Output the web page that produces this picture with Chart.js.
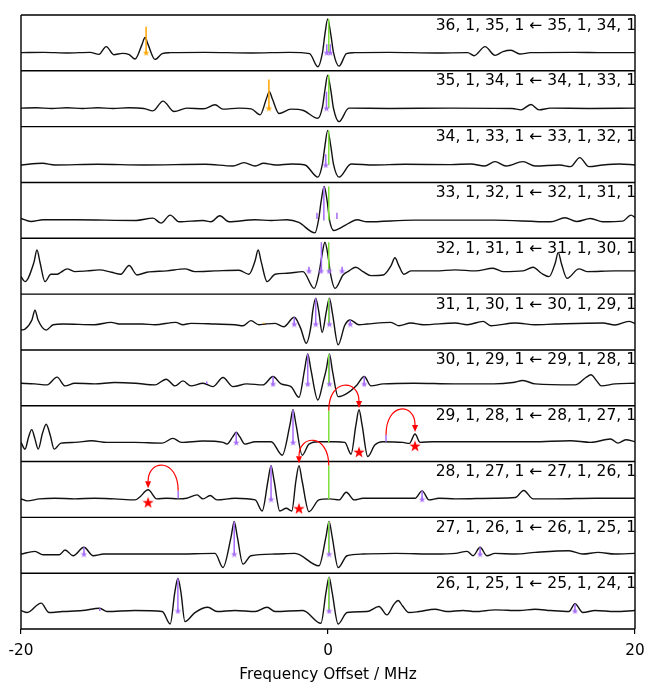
<!DOCTYPE html>
<html>
<head>
<meta charset="utf-8">
<script src="https://cdn.jsdelivr.net/npm/chart.js@4/dist/chart.umd.min.js"></script>
<style>html,body{margin:0;padding:0;background:#fff}</style>
</head>
<body>
<canvas id="spec" width="645" height="683" style="width:645px;height:683px"></canvas>
<script>
// panel titles, top to bottom
const labels = [
  "36, 1, 35, 1 \u2190 35, 1, 34, 1",
  "35, 1, 34, 1 \u2190 34, 1, 33, 1",
  "34, 1, 33, 1 \u2190 33, 1, 32, 1",
  "33, 1, 32, 1 \u2190 32, 1, 31, 1",
  "32, 1, 31, 1 \u2190 31, 1, 30, 1",
  "31, 1, 30, 1 \u2190 30, 1, 29, 1",
  "30, 1, 29, 1 \u2190 29, 1, 28, 1",
  "29, 1, 28, 1 \u2190 28, 1, 27, 1",
  "28, 1, 27, 1 \u2190 27, 1, 26, 1",
  "27, 1, 26, 1 \u2190 26, 1, 25, 1",
  "26, 1, 25, 1 \u2190 25, 1, 24, 1"
]
const xTicks = [-20, 0, 20]

// spectra, [offset MHz, intensity]
const t36 = [[-20,0],[-18.5,0.01],[-17,-0.01],[-15.5,0.01],[-14.92,-0.05],[-14.45,0.18],[-13.95,-0.06],[-13.4,-0.02],[-12.95,-0.06],[-12.57,-0.19],[-12.12,0.24],[-11.92,0.45],[-11.72,0.24],[-11.27,-0.2],[-10.8,-0.03],[-10.3,0],[-8,0.01],[-5,-0.01],[-2.5,0.01],[-1.2,-0.03],[-0.66,-0.42],[-0.36,0],[-0.2,0.55],[-0.02,1.0],[0.18,0.55],[0.36,0],[0.72,-0.4],[1.2,-0.03],[1.7,0],[4,0.01],[7,-0.01],[9.1,0],[9.52,-0.09],[10.23,0.18],[10.88,-0.08],[11.4,0.03],[11.92,0.07],[12.5,-0.04],[13.2,0],[16,0.01],[18,0],[20,0]]
const t35 = [[-20,0.01],[-19,0.02],[-18,0],[-17,0.02],[-16,0],[-15,0.02],[-14,0],[-13,0.02],[-12,0],[-11.4,-0.07],[-10.75,0.22],[-10.02,-0.09],[-9.2,0.01],[-8.1,-0.01],[-7.36,0.11],[-6.84,-0.02],[-5.8,0.01],[-5,-0.01],[-4.42,-0.19],[-4.02,0.28],[-3.82,0.5],[-3.62,0.28],[-3.19,-0.15],[-2.41,-0.02],[-1.6,-0.06],[-0.66,-0.29],[-0.36,0.05],[-0.2,0.55],[-0.02,0.99],[0.18,0.55],[0.36,0],[0.72,-0.39],[1.36,0.01],[4,0],[8,0.01],[12,0],[12.57,-0.04],[13.22,0.12],[13.75,-0.04],[14.5,0.01],[17,0],[20,0.01]]
const t34 = [[-20,-0.02],[-18.6,0.03],[-17.8,-0.02],[-15,0],[-12,-0.02],[-8,0],[-6.2,-0.05],[-5.47,0.05],[-4.74,-0.05],[-4.2,0.03],[-3.4,-0.02],[-2.37,0.01],[-1.5,-0.02],[-0.66,-0.38],[-0.36,0.02],[-0.2,0.55],[-0.02,1.01],[0.18,0.55],[0.36,0],[0.72,-0.38],[1.5,0.01],[3,-0.02],[5,0],[8,-0.01],[9.3,0.01],[10.2,-0.05],[10.88,0.08],[11.6,-0.05],[12.7,0.08],[13.5,-0.05],[15.1,-0.02],[15.8,-0.07],[16.4,0.2],[17,-0.07],[17.9,-0.02],[19,0.01],[20,-0.02]]
const t33 = [[-20,0.05],[-19.35,-0.04],[-18.55,0.01],[-16.5,0.01],[-12.5,-0.01],[-11.4,0.06],[-10.88,-0.09],[-10.28,0.15],[-9.7,-0.05],[-8.14,-0.01],[-7.62,-0.05],[-7.05,0.13],[-6.45,-0.05],[-4.75,0.01],[-3.7,-0.01],[-2.67,0.01],[-1.9,-0.07],[-0.85,-0.38],[-0.6,0.05],[-0.45,0.55],[-0.25,1.0],[-0.05,0.55],[0.1,0],[0.38,-0.31],[0.85,-0.22],[1.37,-0.09],[1.89,0.01],[2.55,-0.05],[5.6,0],[10.8,0],[14.5,-0.05],[15.44,0.07],[16.2,-0.04],[17.1,0.05],[17.9,-0.05],[19.2,-0.03],[19.74,0.15],[20,0.08]]
const t32 = [[-20,-0.02],[-19.74,-0.17],[-19.16,0.4],[-18.96,0.77],[-18.76,0.4],[-18.44,-0.17],[-18.05,0.05],[-17.65,0.05],[-17.4,0.11],[-17,0.21],[-16.5,0.13],[-15.7,0.15],[-14.9,0.18],[-14.1,0.11],[-13.5,0.05],[-12.96,0.31],[-12.44,0.03],[-11.8,0.11],[-10.5,0.15],[-9.32,0.21],[-8.67,0.13],[-7.36,0.15],[-5.8,0.17],[-5.15,0.05],[-4.75,0.45],[-4.55,0.77],[-4.35,0.42],[-3.97,-0.17],[-3.45,0.05],[-2.67,0.08],[-1.63,0.13],[-0.9,-0.37],[-0.58,0.1],[-0.4,0.6],[-0.2,1.0],[0,0.6],[0.15,0.1],[0.46,-0.37],[0.98,0.03],[1.37,0.15],[1.81,0.26],[2.28,0.13],[2.8,0.01],[3.6,0.03],[4.1,0.3],[4.36,0.54],[4.62,0.3],[4.94,0.05],[5.4,0.15],[7,0.15],[8.3,0.18],[9.6,0.15],[10.75,0.23],[11.4,0.13],[12.7,0.15],[13.36,0.26],[13.9,0.08],[14.4,-0.02],[14.8,0.38],[15,0.7],[15.2,0.38],[15.57,-0.07],[16.35,0.21],[16.87,0.13],[18.7,0.15],[20,0.15]]
const t31 = [[-20,0.05],[-19.74,0.08],[-19.29,0.35],[-19.09,0.64],[-18.89,0.35],[-18.36,0.05],[-17.9,0.21],[-17.25,0.23],[-15.2,0.21],[-14.13,0.28],[-13.6,0.23],[-12.1,0.23],[-11.27,0.21],[-9.92,0.28],[-9.45,0.21],[-8.93,0.25],[-7.36,0.23],[-6.06,0.21],[-5.54,0.18],[-5.02,0.33],[-4.5,0.21],[-4.1,0.23],[-3.45,0.25],[-2.88,0.15],[-2.2,0.43],[-1.78,0.1],[-1.42,-0.34],[-1.1,0.2],[-1,0.6],[-0.8,1.0],[-0.6,0.6],[-0.38,-0.02],[-0.11,0.6],[0.09,1.0],[0.29,0.55],[0.66,-0.39],[1.1,0.2],[1.45,0.35],[2.02,0.21],[2.54,0.23],[4.1,0.28],[4.6,0.18],[5.4,0.26],[6.2,0.21],[8.3,0.26],[9.08,0.21],[10.1,0.31],[10.6,0.18],[12.2,0.26],[13.5,0.21],[14.8,0.23],[17.9,0.26],[18.7,0.2],[19.6,0.31],[20,0.25]]
const t30 = [[-20,0.13],[-19.1,0.11],[-18.3,0.08],[-17.65,0.31],[-17.13,0.05],[-16.5,0.13],[-15.2,0.11],[-13.9,0.15],[-12.57,0.13],[-11.27,0.08],[-10.54,0.25],[-9.97,0.05],[-9.45,0.2],[-8.93,0.05],[-8.14,0.13],[-7.5,0.03],[-6.84,0.3],[-6.19,0.03],[-5.28,0.11],[-4.24,0.08],[-3.58,0.33],[-3.06,0.11],[-2.41,0.03],[-1.89,-0.29],[-1.52,0.55],[-1.32,1.0],[-1.12,0.55],[-0.66,-0.37],[-0.3,0.2],[-0.11,0.55],[0.09,1.0],[0.29,0.5],[0.66,-0.27],[1.24,-0.17],[1.89,0.08],[2.36,0.33],[2.8,0.05],[3.6,0.11],[5.6,0.13],[8.2,0.11],[10.8,0.11],[12.05,0.15],[12.7,0.21],[13.5,0.11],[16.1,0.08],[16.8,0.3],[17.13,0.38],[17.5,0.2],[17.8,0.05],[18.7,0.11],[20,0.13]]
const t29 = [[-20,0.03],[-19.74,-0.17],[-19.5,0.2],[-19.3,0.41],[-19.1,0.15],[-18.88,-0.17],[-18.6,0.3],[-18.36,0.57],[-18.1,0.25],[-17.84,-0.17],[-17.4,0.01],[-16.5,0.03],[-15.4,0.08],[-14.4,0.03],[-12.6,0.03],[-10.8,0.01],[-10.1,0.15],[-9.55,0.03],[-8.14,0.07],[-6.84,0.03],[-6.58,-0.02],[-6.2,0.2],[-5.98,0.33],[-5.75,0.2],[-5.41,-0.02],[-4.74,0.05],[-3.7,0.05],[-2.98,-0.35],[-2.48,0.55],[-2.28,1.0],[-2.08,0.55],[-1.68,-0.35],[-1.24,-0.02],[-0.59,0.05],[0.46,0.05],[1.1,0.03],[1.5,-0.32],[1.82,0.55],[2.02,1.0],[2.22,0.55],[2.59,-0.39],[3.05,-0.05],[3.57,0.05],[4.87,0.03],[5.3,0],[5.67,0.28],[6,0.03],[6.8,0.05],[9.4,0.05],[13.3,0.05],[15.8,0.08],[17.1,0.03],[18.4,0.13],[18.9,0.01],[19.4,0.11],[20,0.05]]
const t28 = [[-20,0.01],[-19.6,-0.05],[-18.8,0.01],[-17.8,0.03],[-16.5,0.01],[-15.2,0.03],[-13.9,0.01],[-12.57,-0.02],[-12.3,0.05],[-11.72,0.28],[-11.15,0.01],[-10.5,0.03],[-9.76,0.01],[-9.2,0.03],[-8.53,0.13],[-8.14,0.01],[-7.68,0.11],[-7.23,-0.02],[-6.06,0.03],[-4.74,-0.02],[-4.29,-0.35],[-3.91,0.55],[-3.71,1.0],[-3.51,0.55],[-3.14,-0.35],[-2.72,-0.27],[-2.36,-0.35],[-2.09,0.55],[-1.89,1.0],[-1.69,0.55],[-1.24,-0.37],[-0.59,-0.02],[0.12,0.01],[0.72,-0.02],[1.19,0.21],[1.71,-0.02],[2.28,0.03],[5.67,0.03],[6.13,0.25],[6.58,-0.02],[7.23,0.03],[8.3,0.01],[10.9,0.03],[12.2,0.05],[12.75,0.26],[13.36,0.01],[14.8,0.01],[17.4,0.03],[20,0.03]]
const t27 = [[-20,0.03],[-19.09,0.11],[-18.57,0.01],[-17.5,0.01],[-17.13,0.15],[-16.6,-0.02],[-15.9,0.23],[-15.3,-0.02],[-14.6,0.03],[-12.6,0.03],[-10,0.03],[-7.36,0.05],[-6.84,-0.37],[-6.31,0.55],[-6.11,1.0],[-5.91,0.55],[-5.54,-0.27],[-5.02,-0.02],[-3.45,0.03],[-2.15,0.05],[-0.59,-0.32],[-0.13,0.55],[0.07,1.0],[0.27,0.55],[0.66,-0.37],[1.24,-0.02],[2.28,0.03],[4.4,0.05],[7,0.03],[8.3,0.05],[9.06,0.11],[9.45,-0.02],[9.91,0.23],[10.35,-0.02],[10.88,0.05],[12.2,0.03],[13.5,0.08],[15.7,0.13],[16.6,0.03],[17.6,0.08],[18.7,0.03],[20,0.05]]
const t26 = [[-20,0.01],[-19.6,-0.05],[-18.69,0.23],[-18.17,-0.05],[-17.3,-0.02],[-16,0.01],[-14.87,0.08],[-14.4,-0.02],[-12.6,0.01],[-10.8,-0.02],[-10.28,-0.39],[-9.98,0.55],[-9.78,0.97],[-9.58,0.55],[-9.32,-0.32],[-8.67,-0.05],[-7.83,0.11],[-7.23,-0.02],[-6.06,0.01],[-4.74,-0.02],[-3.97,0.11],[-3.45,-0.02],[-1.63,0.01],[-0.46,-0.37],[-0.13,0.55],[0.07,1.0],[0.27,0.55],[0.66,-0.39],[1.24,-0.05],[2.54,-0.02],[3.32,0.13],[3.84,-0.12],[4.3,0.2],[4.57,0.31],[4.85,0.15],[5.28,-0.05],[5.93,-0.02],[6.97,0.05],[7.75,-0.02],[8.8,0.01],[9.6,-0.02],[10.9,0.03],[12.45,0.01],[13.5,0.05],[14.5,0.01],[15.7,-0.02],[16.09,0.21],[16.6,-0.05],[17.4,0.01],[18.7,-0.02],[20,0.01]]
const traces = [t36, t35, t34, t33, t32, t31, t30, t29, t28, t27, t26]
const baselines = [0, 0.01, -0.02, -0.01, 0.15, 0.23, 0.11, 0.03, 0, 0.03, 0]

// sticks: [panel, offset, top]
const greenSticks = [[0,0.05,1],[1,0.05,1],[2,0.05,1],[3,0.05,1],[4,0.05,1],[5,0.05,1],[6,0.05,1],[7,0.05,0.98],[8,0.05,1],[9,0.05,1],[10,0.05,1]]
const purpleStems = [[0,-0.08,0.25],[0,0.15,0.25],[1,-0.1,0.5],[2,-0.15,0.3],[3,-0.27,1],[4,-0.43,1],[4,-1.24,0.27],[4,0.92,0.27],[5,-2.2,0.43],[5,-0.8,1],[5,0.09,1],[5,1.45,0.35],[6,-3.58,0.33],[6,-1.32,1],[6,0.09,1],[6,2.36,0.33],[6,-7.9,0.18],[7,-5.98,0.33],[7,-2.28,1],[8,-3.71,1],[8,6.13,0.25],[9,-15.9,0.23],[9,-6.11,1],[9,0.07,1],[9,9.91,0.23],[10,-14.87,0.08],[10,-9.78,0.97],[10,0.07,1],[10,16.09,0.21]]
const purpleStars = [[0,-0.08],[0,0.15],[1,-0.1],[2,-0.15],[4,-1.24],[4,-0.46],[4,0.07],[4,0.92],[5,-2.2],[5,-0.8],[5,0.09],[5,1.45],[6,-3.58],[6,-1.32],[6,0.09],[6,2.36],[7,-5.98],[7,-2.28],[8,-3.71],[8,6.13],[9,-15.9],[9,-6.11],[9,0.07],[9,9.91],[10,-9.78],[10,0.07],[10,16.09]]
// short purple marks: [panel, offset, from, to]
const purpleTicks = [[3,-0.72,0.03,0.22],[3,0.58,0.03,0.22],[7,3.78,0.05,0.25],[8,-9.76,0.03,0.25]]
const orangeStems = [[0,-11.85,0.77],[1,-3.85,0.86],[5,-4.18,0.27]]
const orangeStars = [[0,-11.85],[1,-3.85]]
const redStars = [[7,2.02,-0.25],[7,5.67,-0.07],[8,-11.72,-0.09],[8,-1.89,-0.27]]
// curved arrows: [panel, from offset, from y, to offset, to y]
const arcs = [[7,0.05,0.98,2.02,1.05],[8,0.05,1.0,-1.89,1.07],[7,3.78,0.25,5.67,0.34],[8,-9.76,0.25,-11.72,0.33]]

const PH = 1.66, LOW = 0.54
const off = k => (10 - k) * PH + LOW
const FONT = "'DejaVu Sans', sans-serif"

let starImg = (size, color) => {
  const c = document.createElement("canvas")
  c.width = c.height = size
  const g = c.getContext("2d")
  const R = size / 2, r = R * 0.4
  g.fillStyle = color
  g.beginPath()
  for (let i = 0; i < 10; i++) {
    const a = -Math.PI / 2 + i * Math.PI / 5
    const rr = i % 2 ? r : R
    g.lineTo(R + rr * Math.cos(a), R * 1.1 + rr * Math.sin(a))
  }
  g.closePath()
  g.fill()
  return c
}

let stemData = (list, baseOf) => {
  const out = []
  list.forEach(s => {
    const k = s[0], f = s[1]
    const lo = s.length > 3 ? s[2] : baseOf(k)
    const hi = s.length > 3 ? s[3] : s[2]
    out.push({x: f, y: lo + off(k)}, {x: f, y: hi + off(k)}, {x: f, y: null})
  })
  return out
}

const baseOf = k => baselines[k]
const datasets = []
datasets.push({data: redStars.map(s => ({x: s[1], y: s[2] + off(s[0])})), pointStyle: starImg(12, "#ff0000"), showLine: false})
datasets.push({data: purpleStars.map(s => ({x: s[1], y: baselines[s[0]] + off(s[0])})), pointStyle: starImg(7, "#a56cf7"), showLine: false})
datasets.push({data: orangeStars.map(s => ({x: s[1], y: baselines[s[0]] + off(s[0])})), pointStyle: starImg(7, "#ffa500"), showLine: false})
datasets.push({data: stemData(greenSticks, baseOf), borderColor: "#7ee03c", borderWidth: 1.5, showLine: true, pointRadius: 0})
datasets.push({data: stemData(purpleStems, baseOf), borderColor: "#a56cf7", borderWidth: 1.5, showLine: true, pointRadius: 0})
datasets.push({data: stemData(purpleTicks, baseOf), borderColor: "#a56cf7", borderWidth: 1.5, showLine: true, pointRadius: 0})
datasets.push({data: stemData(orangeStems, baseOf), borderColor: "#ffa500", borderWidth: 1.5, showLine: true, pointRadius: 0})
traces.forEach((t, k) => {
  datasets.push({
    data: t.map(p => ({x: p[0], y: p[1] + off(k)})),
    borderColor: "#111", borderWidth: 1.4, showLine: true, pointRadius: 0,
    cubicInterpolationMode: "monotone"
  })
})

const framePlugin = {
  id: "frames",
  afterDatasetsDraw(chart) {
    const {ctx, chartArea: a, scales: {x, y}} = chart
    ctx.save()
    ctx.strokeStyle = "#000"
    ctx.lineWidth = 1.4
    ctx.beginPath()
    for (let k = 0; k <= 11; k++) {
      const py = y.getPixelForValue(k * PH)
      ctx.moveTo(a.left, py)
      ctx.lineTo(a.right, py)
    }
    ctx.moveTo(a.left, a.top)
    ctx.lineTo(a.left, a.bottom)
    ctx.moveTo(a.right, a.top)
    ctx.lineTo(a.right, a.bottom)
    ctx.stroke()

    // red curved arrows
    ctx.strokeStyle = "#ff0000"
    ctx.fillStyle = "#ff0000"
    ctx.lineWidth = 1.2
    arcs.forEach(([k, f1, v1, f2, v2]) => {
      const x1 = x.getPixelForValue(f1), y1 = y.getPixelForValue(v1 + off(k))
      const x2 = x.getPixelForValue(f2), y2 = y.getPixelForValue(v2 + off(k))
      const top = Math.min(y1, y2) - 22
      const head = 7
      ctx.beginPath()
      ctx.moveTo(x1, y1)
      ctx.bezierCurveTo(x1, y1 - (y1 - top) * 4 / 3, x2, y2 - (y2 - top) * 4 / 3, x2, y2 - head)
      ctx.stroke()
      ctx.beginPath()
      ctx.moveTo(x2 - 3, y2 - head)
      ctx.lineTo(x2 + 3, y2 - head)
      ctx.lineTo(x2, y2)
      ctx.closePath()
      ctx.fill()
    })

    ctx.fillStyle = "#000"
    ctx.font = "15.5px " + FONT
    ctx.textAlign = "right"
    ctx.textBaseline = "alphabetic"
    labels.forEach((s, k) => {
      const py = y.getPixelForValue((11 - k) * PH)
      ctx.fillText(s, a.right + 1, py + 14.5)
    })
    ctx.restore()
  }
}

new Chart(document.getElementById("spec"), {
  type: "scatter",
  data: {datasets},
  options: {
    responsive: false,
    animation: false,
    layout: {padding: {left: 21, right: 10, top: 15, bottom: 0}},
    plugins: {legend: {display: false}, tooltip: {enabled: false}},
    scales: {
      x: {
        type: "linear", min: -20, max: 20,
        afterBuildTicks: s => { s.ticks = xTicks.map(v => ({value: v})) },
        ticks: {color: "#000", font: {family: FONT, size: 15.3, lineHeight: 2.2}, padding: 0, maxRotation: 0},
        grid: {drawOnChartArea: false, tickLength: 5, color: "#000", lineWidth: 1.2},
        border: {display: false},
        title: {display: true, text: "Frequency Offset / MHz", color: "#000", font: {family: FONT, size: 15.3, lineHeight: 1}, padding: {top: 0, bottom: 0}}
      },
      y: {display: false, min: 0, max: 11 * PH}
    }
  },
  plugins: [framePlugin]
})
</script>
</body>
</html>
